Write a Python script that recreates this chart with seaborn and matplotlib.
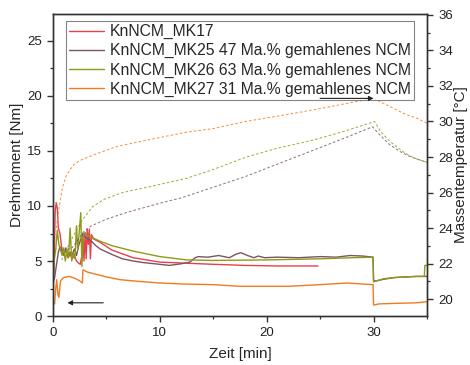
import matplotlib
matplotlib.use("Agg")
import matplotlib.pyplot as plt
from matplotlib.ticker import MultipleLocator
import seaborn as sns

# Torque curves (left axis, Nm)
t_mk17 = [0, 0.1, 0.2, 0.3, 0.4, 0.5, 0.65, 0.8, 1.0, 1.2, 1.4, 1.6, 1.8, 2.0, 2.2, 2.4, 2.55,
          2.7, 2.8, 2.9, 3.0, 3.1, 3.2, 3.3, 3.4, 3.5, 3.6, 3.8, 4.4, 5.5, 7.5, 10, 12.5, 15,
          18, 21, 24.8]
m_mk17 = [2.5, 4.5, 9.5, 10.3, 9.8, 8.0, 7.5, 6.3, 5.5, 6.0, 5.3, 5.6, 5.2, 5.5, 5.0, 4.8, 4.7,
          5.5, 7.2, 5.0, 7.5, 5.2, 7.9, 6.5, 7.9, 5.2, 7.4, 7.0, 6.7, 6.0, 5.3, 4.9, 4.8, 4.7,
          4.6, 4.55, 4.55]

t_mk25 = [0, 0.15, 0.3, 0.5, 0.65, 0.8, 1.0, 1.2, 1.4, 1.6, 1.8, 2.0, 2.2, 2.4, 2.6, 2.8, 3.0,
          3.3, 3.6, 4.0, 4.4, 5.5, 6.5, 7.5, 8.5, 9.5, 10.9, 12, 12.8, 13.3, 13.6, 14.5, 15.5,
          16.5, 17.2, 17.6, 18.2, 18.8, 19.2, 19.8, 21, 23, 25, 26.5, 27.8, 29, 29.95, 30.0,
          30.3, 31, 32, 33, 34, 35]
m_mk25 = [3.0, 3.5, 4.5, 5.8, 6.3, 6.0, 5.6, 6.2, 5.4, 5.8, 5.6, 6.1, 5.5, 6.4, 7.0, 7.5, 7.2,
          7.0, 6.8, 6.4, 6.1, 5.6, 5.2, 5.0, 4.85, 4.75, 4.6, 4.75, 4.9, 5.3, 5.4, 5.35, 5.5,
          5.3, 5.65, 5.75, 5.5, 5.3, 5.45, 5.3, 5.35, 5.3, 5.4, 5.35, 5.5, 5.45, 5.35, 3.2,
          3.2, 3.35, 3.5, 3.55, 3.6, 3.6]

t_mk26 = [0, 0.1, 0.25, 0.4, 0.55, 0.7, 0.85, 1.0, 1.15, 1.3, 1.45, 1.6, 1.75, 1.9, 2.05, 2.2,
          2.3, 2.45, 2.6, 2.7, 2.85, 3.0, 3.2, 3.5, 4.4, 5.5, 7.5, 10, 12.5, 15, 20, 25, 28,
          29.95, 30.0, 30.3, 31, 32, 33, 34, 34.75, 34.8, 35]
m_mk26 = [3.5, 5.0, 6.0, 7.8, 6.5, 6.0, 5.5, 6.2, 5.0, 6.0, 5.3, 8.0, 5.0, 5.8, 5.2, 8.2,
          6.0, 7.6, 9.4, 4.5, 7.3, 7.6, 7.3, 7.2, 6.8, 6.4, 5.9, 5.4, 5.1, 5.05, 5.1, 5.2, 5.3,
          5.35, 3.1, 3.2, 3.4, 3.5, 3.55, 3.6, 3.6, 4.6, 4.6]

t_mk27 = [0, 0.15, 0.25, 0.35, 0.45, 0.55, 0.7, 1.0, 1.5, 2.0, 2.5, 2.75, 2.8, 3.2, 4, 5, 6.3,
          8, 10, 12.5, 15, 17.5, 20, 22, 25, 27.5, 29.95, 30.0, 30.5, 32, 34, 35]
m_mk27 = [1.3, 1.1, 2.5, 3.3, 2.0, 1.7, 3.2, 3.5, 3.6, 3.45, 3.2, 3.0, 4.2, 4.0, 3.8, 3.55,
          3.3, 3.15, 3.0, 2.9, 2.85, 2.7, 2.7, 2.7, 2.85, 3.0, 2.85, 1.0, 1.1, 1.15, 1.2, 1.3]

# Melt temperature curves (right axis, °C)
tt_mk25 = [1.3, 1.8, 2.3, 2.8, 3.5, 5, 7, 10, 12, 15, 18, 21, 24, 27, 29.9, 30.5, 31.5, 32.5,
           33.5, 35]
T_mk25 = [22.8, 22.9, 23.3, 23.75, 24.1, 24.5, 24.9, 25.4, 25.7, 26.3, 26.9, 27.6, 28.3, 29.0,
          29.7, 29.3, 28.7, 28.3, 28.0, 27.7]

tt_mk26 = [0.8, 1.6, 2.2, 2.8, 3.7, 4.7, 6.5, 8.8, 12.5, 15, 18.1, 21, 24, 27, 30.1, 30.7,
           31.5, 32.1, 33, 34, 35]
T_mk26 = [22.2, 23.2, 23.9, 24.5, 25.2, 25.6, 26.0, 26.3, 26.8, 27.3, 28.0, 28.5, 28.9, 29.4,
          30.0, 29.4, 28.9, 28.6, 28.2, 27.9, 27.7]

tt_mk27 = [0.3, 0.6, 0.9, 1.2, 1.6, 2.0, 2.5, 3.7, 6, 9.2, 12.5, 15, 18, 21, 24.8, 28.2, 30.0,
           31, 32, 33, 34, 35]
T_mk27 = [24.0, 25.3, 26.3, 26.9, 27.3, 27.6, 27.8, 28.1, 28.6, 29.0, 29.4, 29.6, 30.0, 30.3,
          30.7, 31.1, 31.3, 31.0, 30.7, 30.4, 30.2, 29.9]

labels = ["KnNCM_MK17",
          "KnNCM_MK25 47 Ma.% gemahlenes NCM",
          "KnNCM_MK26 63 Ma.% gemahlenes NCM",
          "KnNCM_MK27 31 Ma.% gemahlenes NCM"]
colors = ["#e8404a", "#7a5566", "#8e9a18", "#f27a1e"]

sns.set_style("ticks")
plt.rcParams["font.family"] = ["Liberation Sans", "DejaVu Sans"]
plt.rcParams["axes.linewidth"] = 1.0

fig = plt.figure(figsize=(4.7, 3.65), dpi=100)
ax = fig.add_axes([0.1128, 0.1342, 0.7957, 0.8274])
ax2 = ax.twinx()

torque = [(t_mk17, m_mk17), (t_mk25, m_mk25), (t_mk26, m_mk26), (t_mk27, m_mk27)]
for (tx, vy), lab, c in zip(torque, labels, colors):
    sns.lineplot(x=tx, y=vy, ax=ax, color=c, lw=1.0, label=lab, sort=False,
                 estimator=None, legend=False)

temps = [(tt_mk25, T_mk25, colors[1]), (tt_mk26, T_mk26, colors[2]), (tt_mk27, T_mk27, colors[3])]
for tx, ty, c in temps:
    sns.lineplot(x=tx, y=ty, ax=ax2, color=c, lw=0.75, sort=False, estimator=None,
                 legend=False, linestyle=(0, (2.5, 2)), alpha=0.8)

ax.set_xlim(0, 35)
ax.set_ylim(0, 27.45)
ax2.set_ylim(19.05, 36.05)

ax.xaxis.set_major_locator(MultipleLocator(10))
ax.xaxis.set_minor_locator(MultipleLocator(5))
ax.yaxis.set_major_locator(MultipleLocator(5))
ax.yaxis.set_minor_locator(MultipleLocator(2.5))
ax2.yaxis.set_major_locator(MultipleLocator(2))
ax2.yaxis.set_minor_locator(MultipleLocator(1))

for a in (ax, ax2):
    a.tick_params(which="major", length=4.5, width=1.0, labelsize=9.5, color="#333333",
                  labelcolor="#222222")
    a.tick_params(which="minor", length=2.5, width=0.9, color="#333333")
    for s in a.spines.values():
        s.set_color("#333333")
        s.set_visible(True)

ax.set_xlabel("Zeit [min]", fontsize=11, labelpad=6)
ax.set_ylabel("Drehmoment [Nm]", fontsize=11, labelpad=2)
ax2.set_ylabel("Massentemperatur [°C]", fontsize=11, labelpad=1)

handles, hlabels = ax.get_legend_handles_labels()
leg = ax2.legend(handles, hlabels, loc="upper left", bbox_to_anchor=(0.035, 0.977),
                 borderaxespad=0, fontsize=11.3, frameon=True, fancybox=False,
                 edgecolor="#666666", handlelength=2.2, handletextpad=0.4,
                 labelspacing=0.26, borderpad=0.2)
leg.get_frame().set_linewidth(0.8)

# Arrows pointing at the axis each set of curves belongs to
ax.annotate("", xy=(1.35, 1.2), xytext=(4.7, 1.2),
            arrowprops=dict(arrowstyle="-|>", color="#222222", lw=0.8,
                            mutation_scale=7, shrinkA=0, shrinkB=0))
ax2.annotate("", xy=(30.0, 31.3), xytext=(25.0, 31.3), zorder=10,
             arrowprops=dict(arrowstyle="-|>", color="#222222", lw=0.8,
                             mutation_scale=7, shrinkA=0, shrinkB=0))

fig.savefig("out.png", dpi=100)
